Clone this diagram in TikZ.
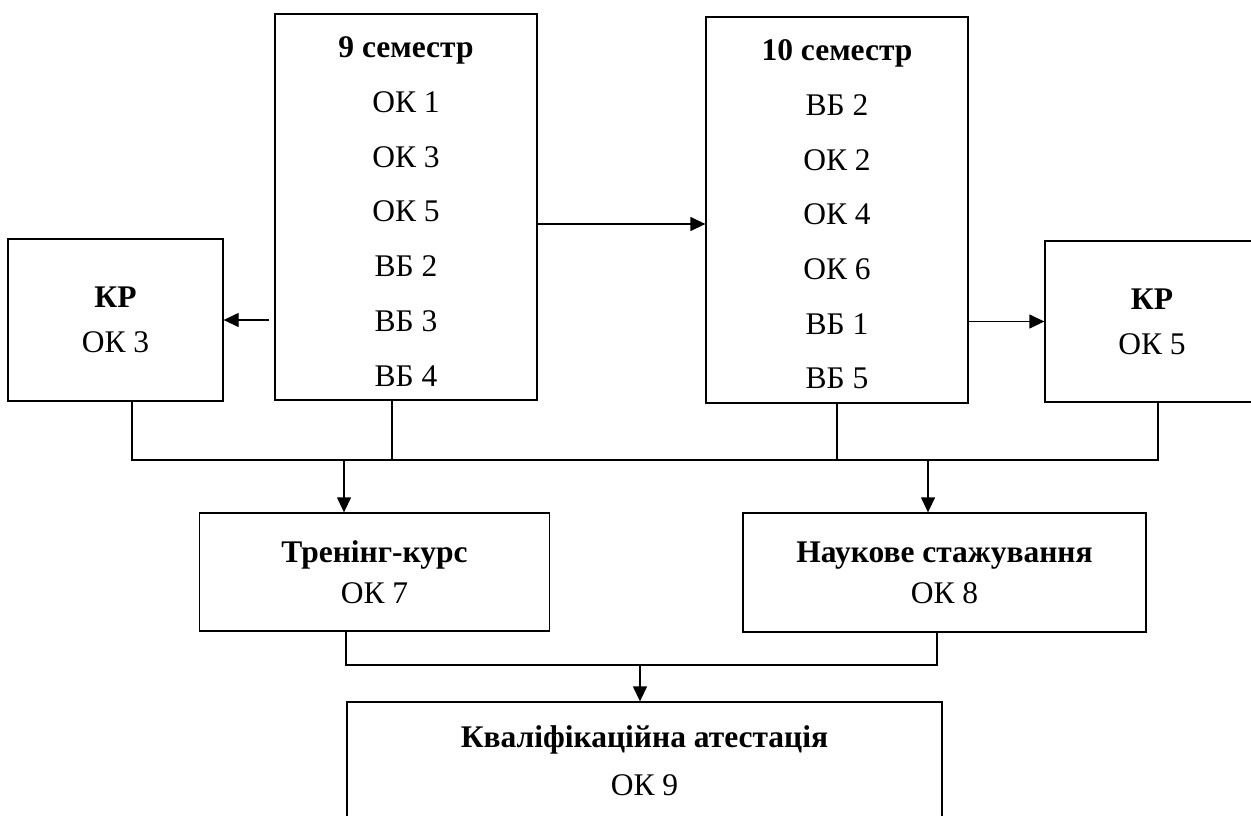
\documentclass[tikz,border=0pt]{standalone}
\usepackage{fontspec}
\setmainfont{Liberation Serif}
\usetikzlibrary{arrows.meta,calc}
\begin{document}
\begin{tikzpicture}[x=1pt,y=-1pt,
  box/.style={draw,line width=1.3pt,inner sep=0pt,align=center},
  arr/.style={line width=1.3pt,-{Triangle[length=15pt,width=14pt]}},
  ln/.style={line width=1.3pt}]
\useasboundingbox (0,0) rectangle (1251,816);
\clip (0,0) rectangle (1251,816);
% semesters
\node[box, minimum width=262pt, minimum height=386pt, font=\fontsize{31.5}{54.7}\selectfont] (s9) at (406,207)
  {\rule{0pt}{30pt}\textbf{9 семестр}\\ОК 1\\ОК 3\\ОК 5\\ВБ 2\\ВБ 3\\ВБ 4};
\node[box, minimum width=262pt, minimum height=386pt, font=\fontsize{31.5}{54.7}\selectfont] (s10) at (837,210)
  {\rule{0pt}{30pt}\textbf{10 семестр}\\ВБ 2\\ОК 2\\ОК 4\\ОК 6\\ВБ 1\\ВБ 5};
% course works
\node[box, minimum width=215pt, minimum height=162pt, font=\fontsize{31.5}{45}\selectfont] (kr1) at (115.5,320)
  {\textbf{КР}\\ОК 3};
\node[box, minimum width=214pt, minimum height=161pt, font=\fontsize{31.5}{45}\selectfont] (kr2) at (1152,321.5)
  {\textbf{КР}\\ОК 5};
% practice
\node[box, minimum width=350pt, minimum height=118pt, font=\fontsize{31.5}{41}\selectfont] (tr) at (374.5,572)
  {\textbf{Тренінг-курс}\\ОК 7};
\node[box, minimum width=403pt, minimum height=119pt, font=\fontsize{31.5}{41}\selectfont] (nk) at (944.5,572.5)
  {\textbf{Наукове стажування}\\ОК 8};
\node[box, minimum width=595pt, minimum height=118pt, font=\fontsize{31.5}{48}\selectfont] (kv) at (644.5,761)
  {\textbf{Кваліфікаційна атестація}\\ОК 9};
% connectors
\coordinate (a1) at ($(s9.east)+(0,17)$);
\draw[arr] (a1) -- (a1 -| s10.west);
\draw[arr, shorten <=5pt] (s9.west |- kr1.east) -- (kr1.east);
\draw[arr] (s10.east |- kr2.west) -- (kr2.west);
\coordinate (b1) at (132,460);
\coordinate (b2) at (1158,460);
\coordinate (b9) at (392,460);
\draw[ln] (kr1.south -| b1) -- (b1) -- (b2) -- (kr2.south -| b2);
\draw[ln] (s9.south -| b9) -- (b9);
\draw[ln] (s10.south) -- (s10.south |- b1);
\coordinate (t1) at (344,460);
\draw[arr] (t1) -- (t1 |- tr.north);
\coordinate (n1) at (928,460);
\draw[arr] (n1) -- (n1 |- nk.north);
\coordinate (c1) at (346,665);
\coordinate (c2) at (937,665);
\draw[ln] (tr.south -| c1) -- (c1) -- (c2) -- (nk.south -| c2);
\coordinate (c3) at (640,665);
\draw[arr] (c3) -- (c3 |- kv.north);
\end{tikzpicture}
\end{document}
